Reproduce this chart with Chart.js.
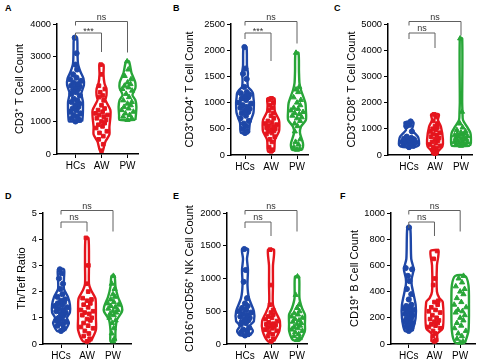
<!DOCTYPE html>
<html><head><meta charset="utf-8">
<script src="https://cdn.jsdelivr.net/npm/chart.js@4/dist/chart.umd.min.js"></script>
<style>
body{margin:0;width:480px;height:360px;background:#fff;position:relative;overflow:hidden;font-family:"Liberation Sans",Arial,sans-serif}
canvas{position:absolute}
.lt{position:absolute;font-weight:bold;font-size:9px;color:#000;line-height:9px}
</style></head><body>
<div class="lt" style="left:5px;top:4px">A</div>
<div class="lt" style="left:173px;top:4px">B</div>
<div class="lt" style="left:334px;top:4px">C</div>
<div class="lt" style="left:5px;top:192px">D</div>
<div class="lt" style="left:173px;top:192px">E</div>
<div class="lt" style="left:340px;top:192px">F</div>
<canvas id="cA" width="160" height="180" style="left:0;top:0"></canvas>
<canvas id="cB" width="160" height="180" style="left:160px;top:0"></canvas>
<canvas id="cC" width="160" height="180" style="left:320px;top:0"></canvas>
<canvas id="cD" width="160" height="180" style="left:0;top:180px"></canvas>
<canvas id="cE" width="160" height="180" style="left:160px;top:180px"></canvas>
<canvas id="cF" width="160" height="180" style="left:320px;top:180px"></canvas>
<script>
// ---------- categories ----------
const GROUPS = ['HCs', 'AW', 'PW'];

// ---------- A: CD3+ T cell count ----------
const A_HCs = [3580,3100,2750,2600,2450,2350,2300,2250,2200,2150,2100,2080,2050,2000,1950,1900,1850,1800,1700,1650,1600,1550,1500,1450,1400,1350,1300,1250,1200,1150,1100,1050,1000];
const A_AW  = [2750,2450,2100,2000,1900,1800,1750,1650,1500,1400,1350,1300,1250,1200,1200,1150,1100,1050,1000,950,900,850,800,700,650,550,450,300,100];
const A_PW  = [2850,2600,2400,2300,2200,2150,2100,2050,2000,1950,1850,1750,1650,1600,1550,1500,1450,1400,1350,1300,1250,1200,1150,1100,1050];
// violin density profiles: [value, relative density]
const A_HCs_den = [[1000,0.65],[1050,0.7],[1300,0.75],[1610,0.75],[1870,0.6],[2120,0.85],[2330,0.8],[2530,0.5],[2790,0.25],[3200,0.2],[3580,0.15]];
const A_AW_den  = [[100,0.15],[380,0.4],[600,0.8],[830,0.8],[1140,0.9],[1350,0.9],[1660,0.4],[1800,0.5],[2000,0.5],[2175,0.3],[2450,0.2],[2750,0.2]];
const A_PW_den  = [[1050,0.8],[1200,0.85],[1450,0.9],[1660,0.8],[1815,0.5],[2030,0.8],[2180,0.8],[2280,0.7],[2500,0.4],[2850,0.15]];

// ---------- B: CD3+CD4+ T cell count ----------
const B_HCs = [2060,1650,1550,1450,1300,1200,1180,1150,1120,1100,1080,1050,1000,980,950,920,900,880,850,820,800,750,700,650,600,550,500,450,420];
const B_AW  = [1080,1050,1000,950,900,850,800,750,700,650,620,600,580,560,540,520,500,480,460,450,420,400,350,300,250,150,100,70];
const B_PW  = [1950,1300,1250,1200,1100,1050,1000,950,900,880,850,820,800,780,750,720,700,650,600,550,450,300,250,200,150,120,100];
const B_HCs_den = [[420,0.4],[610,0.5],[800,0.85],[1000,0.9],[1100,0.85],[1180,0.8],[1240,0.6],[1300,0.3],[1450,0.25],[1560,0.3],[1700,0.2],[2060,0.15]];
const B_AW_den  = [[65,0.3],[130,0.35],[290,0.4],[445,0.8],[560,0.85],[670,0.8],[826,0.4],[950,0.35],[1080,0.35]];
const B_PW_den  = [[100,0.5],[150,0.6],[230,0.6],[420,0.3],[540,0.4],[670,0.9],[850,0.9],[990,0.85],[1240,0.4],[1370,0.25],[1600,0.2],[1950,0.15]];

// ---------- C: CD3+CD8+ T cell count ----------
const C_HCs = [1280,1200,1150,1100,900,700,650,620,600,580,560,540,520,500,480,460,440,400,350,300];
const C_AW  = [1550,1450,1300,1200,1100,1050,1000,950,900,850,800,750,700,650,600,550,500,450,400,350,300,250,200,100,50];
const C_PW  = [4450,1650,1200,1050,950,900,850,820,800,780,750,720,700,680,650,620,600,580,550,520,500,480,450,420,400,380,350];
const C_HCs_den = [[300,0.6],[380,1.0],[550,1.0],[700,0.9],[955,0.3],[1100,0.4],[1250,0.45]];
const C_AW_den  = [[50,0.3],[130,0.3],[320,0.75],[600,0.8],[1080,0.6],[1336,0.3],[1550,0.4]];
const C_PW_den  = [[350,0.9],[460,1.0],[840,0.95],[1080,0.6],[1336,0.2],[1650,0.15],[2000,0.12],[4450,0.12]];

// ---------- D: Th/Teff ratio ----------
const D_HCs = [2.85,2.7,2.5,2.3,2.1,1.9,1.8,1.7,1.65,1.6,1.55,1.5,1.45,1.4,1.35,1.3,1.25,1.2,1.15,1.1,1.0,0.95,0.9,0.85,0.8,0.75,0.7,0.6,0.5];
const D_AW  = [4.05,3.0,2.3,2.0,1.75,1.7,1.65,1.55,1.5,1.4,1.3,1.25,1.2,1.15,1.1,1.0,0.95,0.9,0.8,0.7,0.65,0.6,0.5,0.4,0.3,0.2,0.1];
const D_PW  = [2.6,2.3,2.1,1.9,1.8,1.7,1.6,1.55,1.5,1.45,1.4,1.35,1.3,1.25,1.2,1.15,1.1,1.0,0.9,0.8,0.6,0.4,0.2,0.1];
const D_HCs_den = [[0.5,0.4],[0.8,0.8],[1.0,0.6],[1.2,0.9],[1.5,0.9],[1.8,0.7],[2.1,0.3],[2.5,0.3],[2.85,0.3]];
const D_AW_den  = [[0.1,0.4],[0.53,0.9],[1.0,0.9],[1.4,0.9],[1.74,0.85],[2.06,0.4],[2.3,0.2],[3.0,0.2],[4.05,0.15]];
const D_PW_den  = [[0.1,0.25],[0.5,0.25],[0.92,0.4],[1.23,0.9],[1.42,0.9],[1.8,0.5],[2.2,0.25],[2.6,0.15]];

// ---------- E: CD16+orCD56+ NK cell count ----------
const E_HCs = [1450,1130,950,700,620,580,550,520,500,480,460,440,420,400,380,360,340,320,300,250,220,200,180,150,130];
const E_AW  = [1440,900,600,520,480,450,420,400,380,350,330,310,300,290,280,260,250,240,220,200,180,150,120,80,40];
const E_PW  = [1030,750,600,550,500,470,450,420,400,380,360,340,320,300,280,260,240,220,200,180,150,120,90,60];
const E_HCs_den = [[130,0.5],[200,0.8],[280,0.5],[350,0.9],[500,0.9],[700,0.4],[900,0.25],[1130,0.3],[1300,0.2],[1450,0.3]];
const E_AW_den  = [[40,0.3],[200,0.85],[350,0.9],[450,0.6],[600,0.2],[900,0.2],[1200,0.2],[1440,0.3]];
const E_PW_den  = [[60,0.4],[200,0.8],[300,0.8],[450,0.8],[550,0.5],[700,0.25],[1030,0.2]];

// ---------- F: CD19+ B cell count ----------
const F_HCs = [890,580,570,520,480,420,380,340,300,290,280,270,260,250,240,230,220,210,200,190,180,170,160,150,140,130,120,100];
const F_AW  = [710,650,500,450,330,320,300,280,260,250,240,220,200,190,180,170,160,150,140,130,120,100,80,60,30,20];
const F_PW  = [520,500,470,440,420,400,380,350,320,300,280,260,250,240,220,200,180,160,140,120,100,80,60,40,20,10];
const F_HCs_den = [[100,0.4],[200,0.7],[300,0.7],[450,0.3],[500,0.3],[570,0.5],[650,0.25],[890,0.15]];
const F_AW_den  = [[20,0.3],[80,0.3],[120,0.85],[320,0.85],[350,0.5],[400,0.25],[600,0.25],[710,0.4]];
const F_PW_den  = [[10,0.5],[100,0.85],[300,0.9],[450,0.85],[520,0.5]];

// ---------- axis / annotation text ----------
const TITLES = ['CD3\u207A T Cell Count','CD3\u207ACD4\u207A T Cell Count','CD3\u207ACD8\u207A T Cell Count','Th/Teff Ratio','CD16\u207AorCD56\u207A NK Cell Count','CD19\u207A B Cell Count'];
const Y_MAX  = [4000, 2500, 5000, 5, 2000, 1000];
const Y_STEP = [1000, 500, 1000, 1, 500, 200];
const TESTS  = [['***','ns'],['***','ns'],['ns','ns'],['ns','ns'],['ns','ns'],['ns','ns']];

// ---------- styling / layout ----------
const COLORS = ['#1e47a7', '#e5151d', '#28a638'];
const MARKERS = ['circle', 'rect', 'triangle'];
const HALF_W = 0.38;
const LAYOUT = [
  {id:'cA', padL:9.4, yW:47.6, padT:24, areaW:81, xH:26, hcsOff:18.5, upLeg:31, lowLeg:19},
  {id:'cB', padL:19.4, yW:51.6, padT:24, areaW:77, xH:25, hcsOff:14, upLeg:22, lowLeg:28},
  {id:'cC', padL:21, yW:47, padT:24, areaW:84, xH:25, hcsOff:21, upLeg:14, lowLeg:15},
  {id:'cD', padL:11.4, yW:31.6, padT:33, areaW:88, xH:16, hcsOff:18, upLeg:21, lowLeg:9.5},
  {id:'cE', padL:19.4, yW:47.6, padT:33, areaW:80, xH:16, hcsOff:18, upLeg:21, lowLeg:14},
  {id:'cF', padL:24.4, yW:46.6, padT:33, areaW:85, xH:16, hcsOff:18, upLeg:21, lowLeg:14}
];
const PX_PER_CAT = 26;

const POINTS = [[A_HCs,A_AW,A_PW],[B_HCs,B_AW,B_PW],[C_HCs,C_AW,C_PW],[D_HCs,D_AW,D_PW],[E_HCs,E_AW,E_PW],[F_HCs,F_AW,F_PW]];
const DENS = [[A_HCs_den,A_AW_den,A_PW_den],[B_HCs_den,B_AW_den,B_PW_den],[C_HCs_den,C_AW_den,C_PW_den],[D_HCs_den,D_AW_den,D_PW_den],[E_HCs_den,E_AW_den,E_PW_den],[F_HCs_den,F_AW_den,F_PW_den]];

function denAt(den, v){
  if (v <= den[0][0]) return den[0][1];
  for (let i=1;i<den.length;i++){
    if (v <= den[i][0]){
      const t=(v-den[i-1][0])/(den[i][0]-den[i-1][0]);
      return den[i-1][1]+t*(den[i][1]-den[i-1][1]);
    }
  }
  return den[den.length-1][1];
}

function violinOutline(den, c){
  const right = den.map(([v,d]) => ({x:c + d*HALF_W, y:v}));
  const left = den.slice().reverse().map(([v,d]) => ({x:c - d*HALF_W, y:v}));
  return right.concat(left, [right[0]]);
}

const SPREAD = [0, 0.62, -0.62, 0.3, -0.3, 0.8, -0.8, 0.15, -0.45, 0.45];
function spreadPoints(vals, den, c){
  const sorted = vals.slice().sort((a,b)=>a-b);
  return sorted.map((v,i)=>({x:c + SPREAD[i%SPREAD.length]*denAt(den,v)*HALF_W*0.85, y:v}));
}

function bracketPlugin(L, tests){
  return {
    id:'brk',
    afterDraw(chart){
      const ctx = chart.ctx, xs = chart.scales.x, top = chart.chartArea.top;
      const x1 = xs.getPixelForValue(1), x2 = xs.getPixelForValue(2), x3 = xs.getPixelForValue(3);
      ctx.save();
      ctx.strokeStyle = '#606060'; ctx.lineWidth = 1;
      ctx.fillStyle = '#333'; ctx.textAlign = 'center'; ctx.textBaseline = 'alphabetic';
      ctx.font = '9px "Liberation Sans", Arial, sans-serif';
      const draw = (xa, xb, y, legA, legB, txt) => {
        ctx.beginPath();
        ctx.moveTo(xa, y+legA); ctx.lineTo(xa, y); ctx.lineTo(xb, y); ctx.lineTo(xb, y+legB);
        ctx.stroke();
        ctx.fillText(txt, (xa+xb)/2, txt==='***' ? y+1 : y-2);
      };
      draw(x1, x3, top-2.5, 4, L.upLeg, tests[1]);
      draw(x1, x2, top+9, 6, L.lowLeg, tests[0]);
      ctx.restore();
    }
  };
}

const FONT = '"Liberation Sans", Arial, sans-serif';
LAYOUT.forEach((L, p) => {
  const datasets = [];
  for (let g=0; g<3; g++){
    datasets.push({
      type:'scatter', showLine:true, data:violinOutline(DENS[p][g], g+1),
      borderColor:COLORS[g], borderWidth:2.4, pointRadius:0, tension:0.25, fill:false, clip:false
    });
  }
  for (let g=0; g<3; g++){
    datasets.push({
      type:'scatter', data:spreadPoints(POINTS[p][g], DENS[p][g], g+1),
      pointStyle:MARKERS[g], pointRadius:g===2?3:2.6, backgroundColor:COLORS[g], borderColor:COLORS[g], borderWidth:1, clip:false
    });
  }
  const xMin = 1 - L.hcsOff/PX_PER_CAT;
  const xMax = xMin + L.areaW/PX_PER_CAT;
  const padR = 160 - L.padL - L.yW - L.areaW;
  new Chart(document.getElementById(L.id), {
    type:'scatter',
    data:{datasets},
    options:{
      animation:false, responsive:false, devicePixelRatio:1,
      layout:{padding:{left:L.padL, top:L.padT, right:padR, bottom:0}},
      plugins:{legend:{display:false}, tooltip:{enabled:false}},
      scales:{
        x:{
          type:'linear', min:xMin, max:xMax,
          afterBuildTicks: s => { s.ticks = [1,2,3].map(v=>({value:v})); },
          afterFit: s => { s.height = L.xH; },
          ticks:{callback: v => GROUPS[v-1], font:{family:FONT, size:10}, color:'#000', padding:2, autoSkip:false, maxRotation:0},
          grid:{display:true, drawOnChartArea:false, drawTicks:true, tickLength:4, color:'#000', lineWidth:1},
          border:{color:'#000', width:1.5}
        },
        y:{
          min:0, max:Y_MAX[p],
          afterFit: s => { s.width = L.yW; },
          ticks:{stepSize:Y_STEP[p], callback: v => String(v), font:{family:FONT, size:9.3}, color:'#000', padding:2},
          grid:{display:true, drawOnChartArea:false, drawTicks:true, tickLength:4, color:'#000', lineWidth:1},
          border:{color:'#000', width:1.5},
          title:{display:true, text:TITLES[p], font:{family:FONT, size:11}, color:'#000', padding:{top:4, bottom:2}}
        }
      }
    },
    plugins:[bracketPlugin(L, TESTS[p])]
  });
});
</script>
</body></html>
